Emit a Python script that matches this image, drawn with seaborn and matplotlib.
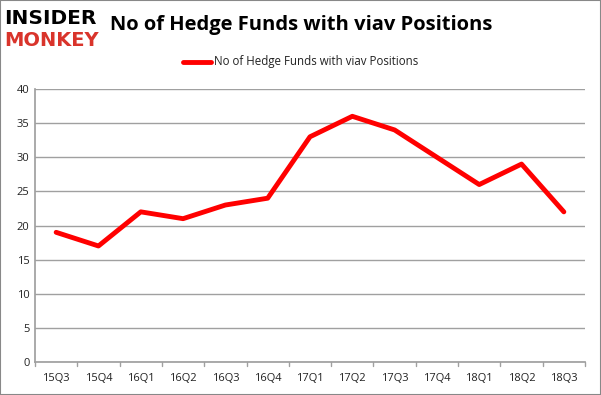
import matplotlib
matplotlib.use("Agg")
import matplotlib.pyplot as plt
import seaborn as sns
import pandas as pd
from matplotlib.patches import Rectangle

quarters = ["15Q3", "15Q4", "16Q1", "16Q2", "16Q3", "16Q4", "17Q1",
            "17Q2", "17Q3", "17Q4", "18Q1", "18Q2", "18Q3"]
funds = [19, 17, 22, 21, 23, 24, 33, 36, 34, 30, 26, 29, 22]
series_name = "No of Hedge Funds with viav Positions"
title = "No of Hedge Funds with viav Positions"
yticks = [0, 5, 10, 15, 20, 25, 30, 35, 40]

sns.set_theme(style="white")
plt.rcParams['font.family'] = ['Open Sans', 'DejaVu Sans']

df = pd.DataFrame({"quarter": quarters, "funds": funds})

fig = plt.figure(figsize=(6.01, 3.95), dpi=100)
W, H = 601, 395
ax = fig.add_axes([35 / W, 1 - 362 / H, (585 - 35) / W, (362 - 89) / H])

sns.lineplot(data=df, x="quarter", y="funds", ax=ax, color="#ff0000",
             linewidth=3.5, sort=False, label=series_name, legend=False)

ax.set_xlim(-0.5, len(quarters) - 0.5)
ax.set_ylim(0, 40)
ax.set_yticks(yticks)
ax.set_yticklabels([str(v) for v in yticks])
ax.yaxis.grid(True, color="#a0a0a0", linewidth=1)
ax.set_axisbelow(True)
ax.set_xlabel("")
ax.set_ylabel("")
for s in ["top", "right"]:
    ax.spines[s].set_visible(False)
ax.spines["left"].set_color("#a0a0a0")
ax.spines["bottom"].set_color("#a0a0a0")
ax.tick_params(axis="y", labelsize=8, colors="#222222", pad=4, length=0)
ax.tick_params(axis="x", labelsize=8, colors="#222222", pad=8, length=0)
ax.set_xticks(range(len(quarters)))
ax.set_xticklabels(quarters)
for i in range(len(quarters) + 1):
    ax.plot([i - 0.5, i - 0.5], [0, -0.6], color="#a0a0a0", lw=1, clip_on=False)

# title
fig.text(301 / W, 1 - 25 / H, title, ha="center", va="center",
         fontsize=14.5, fontweight="bold", color="black")
# logo
fig.text(4 / W, 1 - 19 / H, "INSIDER", ha="left", va="center",
         fontsize=14.5, fontweight="heavy", color="black",
         family=["DejaVu Sans"])
fig.text(4 / W, 1 - 41 / H, "MONKEY", ha="left", va="center",
         fontsize=14, fontweight="heavy", color="#d9342b",
         family=["DejaVu Sans"])

# legend
fig.add_artist(plt.Line2D([183 / W, 211 / W], [1 - 62 / H, 1 - 62 / H],
                          color="#ff0000", lw=3.5))
fig.text(214 / W, 1 - 62 / H, series_name, ha="left", va="center",
         fontsize=8.3, color="#222222")

# border
fig.add_artist(Rectangle((0, 0), 1, 1, transform=fig.transFigure,
                         fill=False, edgecolor="#888888", lw=1.5))

fig.savefig("out.png", dpi=100)
